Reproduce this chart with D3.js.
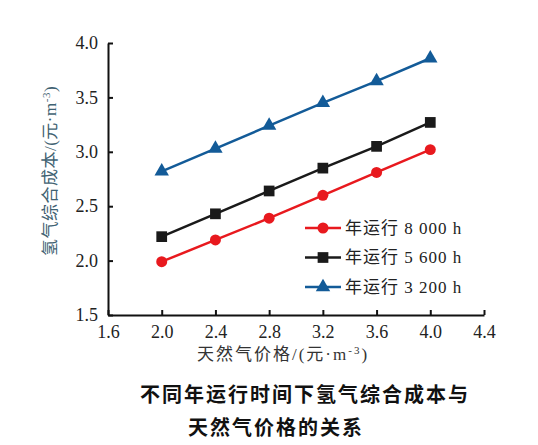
<!DOCTYPE html>
<html>
<head>
<meta charset="utf-8">
<script src="https://cdn.jsdelivr.net/npm/d3@7"></script>
<style>
  body { margin: 0; background: #fff; }
  svg text { font-family: "Liberation Serif", "Noto Sans CJK SC", serif; }
</style>
</head>
<body>
<div id="chart"></div>
<script>
// ---- data ----
const gasPrice = [2.0, 2.4, 2.8, 3.2, 3.6, 4.0];
const cost8000 = [1.99, 2.19, 2.39, 2.60, 2.81, 3.02];
const cost5600 = [2.22, 2.43, 2.64, 2.85, 3.05, 3.27];
const cost3200 = [2.82, 3.03, 3.24, 3.45, 3.65, 3.86];
const seriesNames = ["年运行 8 000 h", "年运行 5 600 h", "年运行 3 200 h"];
const xTicks = [1.6, 2.0, 2.4, 2.8, 3.2, 3.6, 4.0, 4.4];
const yTicks = [1.5, 2.0, 2.5, 3.0, 3.5, 4.0];

const series = [
  {name: seriesNames[0], values: cost8000, color: "#e8191e", symbol: d3.symbolCircle, size: 95},
  {name: seriesNames[1], values: cost5600, color: "#1a1a1a", symbol: d3.symbolSquare, size: 115},
  {name: seriesNames[2], values: cost3200, color: "#135b98", symbol: d3.symbolTriangle, size: 90}
];

const width = 538, height = 445;
const margin = {top: 43, right: 54, bottom: 130, left: 108};

const svg = d3.select("#chart")
  .append("svg")
  .attr("width", width)
  .attr("height", height);

const x = d3.scaleLinear()
  .domain([1.6, 4.4])
  .range([margin.left, width - margin.right]);

const y = d3.scaleLinear()
  .domain([1.5, 4.0])
  .range([height - margin.bottom, margin.top]);

// axes (ticks point inward)
const xAxis = svg.append("g")
  .attr("transform", `translate(0,${y(1.5)})`)
  .call(d3.axisBottom(x).tickValues(xTicks).tickFormat(d3.format(".1f"))
    .tickSizeInner(-5).tickSizeOuter(0).tickPadding(9));

const yAxis = svg.append("g")
  .attr("transform", `translate(${x(1.6)},0)`)
  .call(d3.axisLeft(y).tickValues(yTicks).tickFormat(d3.format(".1f"))
    .tickSizeInner(-5).tickSizeOuter(0).tickPadding(10));

[xAxis, yAxis].forEach(g => {
  g.select(".domain").attr("stroke", "#111").attr("stroke-width", 2);
  g.selectAll(".tick line").attr("stroke", "#111").attr("stroke-width", 2);
  g.selectAll(".tick text")
    .attr("fill", "#222")
    .style("font-size", "18px");
});
xAxis.selectAll(".tick text").attr("dy", "0.8em");

// lines and markers
const line = d3.line()
  .x((d, i) => x(gasPrice[i]))
  .y(d => y(d));

series.forEach(s => {
  svg.append("path")
    .datum(s.values)
    .attr("fill", "none")
    .attr("stroke", s.color)
    .attr("stroke-width", 2.5)
    .attr("d", line);

  svg.selectAll(null)
    .data(s.values)
    .enter()
    .append("path")
    .attr("d", d3.symbol().type(s.symbol).size(s.size))
    .attr("transform", (d, i) => `translate(${x(gasPrice[i])},${y(d)})`)
    .attr("fill", s.color);
});

// legend
const legend = svg.append("g").attr("transform", "translate(305,228)");
series.forEach((s, i) => {
  const row = legend.append("g").attr("transform", `translate(0,${i * 29.5})`);
  row.append("line")
    .attr("x1", 0).attr("x2", 36)
    .attr("stroke", s.color).attr("stroke-width", 2.5);
  row.append("path")
    .attr("d", d3.symbol().type(s.symbol).size(s.size))
    .attr("transform", "translate(18,0)")
    .attr("fill", s.color);
  row.append("text")
    .attr("x", 40)
    .attr("dy", "0.35em")
    .attr("fill", "#222")
    .style("font-size", "17px")
    .style("letter-spacing", "1px")
    .text(s.name);
});

// axis titles
const xTitle = svg.append("text")
  .attr("x", 283)
  .attr("y", 360)
  .attr("text-anchor", "middle")
  .attr("fill", "#333")
  .style("font-size", "17px")
  .style("letter-spacing", "2px");
xTitle.append("tspan").text("天然气价格/(元·m");
xTitle.append("tspan").attr("dy", -6).style("font-size", "11px").text("-3");
xTitle.append("tspan").attr("dy", 6).text(")");

const yTitle = svg.append("text")
  .attr("transform", "translate(56,171) rotate(-90)")
  .attr("text-anchor", "middle")
  .attr("fill", "#3f6272")
  .style("font-size", "17px")
  .style("letter-spacing", "0.5px");
yTitle.append("tspan").text("氢气综合成本/(元·m");
yTitle.append("tspan").attr("dy", -6).style("font-size", "11px").text("-3");
yTitle.append("tspan").attr("dy", 6).text(")");

// caption
svg.append("text")
  .attr("x", 140)
  .attr("y", 402)
  .attr("fill", "#111")
  .style("font-family", "'Noto Sans CJK SC', sans-serif")
  .style("font-weight", "bold")
  .style("font-size", "20px")
  .style("letter-spacing", "2px")
  .text("不同年运行时间下氢气综合成本与");

svg.append("text")
  .attr("x", 188)
  .attr("y", 435)
  .attr("fill", "#111")
  .style("font-family", "'Noto Sans CJK SC', sans-serif")
  .style("font-weight", "bold")
  .style("font-size", "20px")
  .style("letter-spacing", "2px")
  .text("天然气价格的关系");
</script>
</body>
</html>
